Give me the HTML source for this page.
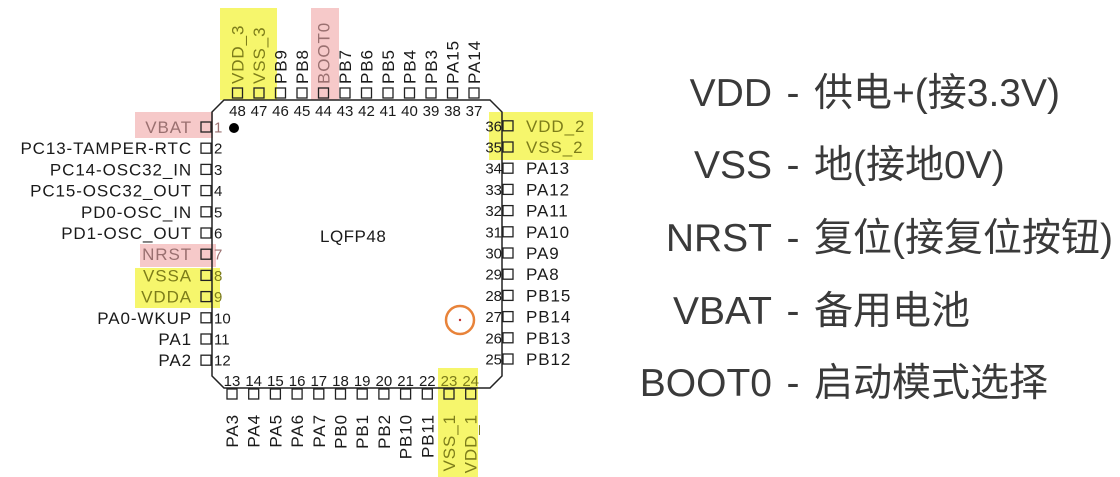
<!DOCTYPE html>
<html><head><meta charset="utf-8">
<style>
html,body{margin:0;padding:0;background:#fff;width:1120px;height:477px;overflow:hidden}
svg{display:block}
.pl{font-family:"Liberation Sans",Arial,sans-serif;font-size:17px;letter-spacing:0.9px;fill:#1a1a1a}
.pn{font-family:"Liberation Sans",Arial,sans-serif;font-size:15px;fill:#1a1a1a}
.big{font-family:"Liberation Sans","Noto Sans CJK SC",sans-serif;font-size:39px;fill:#3a3a3a}
</style></head>
<body>
<svg id="chip" width="1120" height="477" viewBox="0 0 1120 477">
  <g id="hl">
    <rect x="220" y="8" width="57" height="92" fill="#f6f66c"/>
    <rect x="311" y="8" width="28" height="92" fill="#f6c9c9"/>
    <rect x="135" y="112" width="78" height="26" fill="#f6c9c9"/>
    <rect x="140" y="244" width="76" height="23" fill="#f6c9c9"/>
    <rect x="135" y="268" width="85" height="40" fill="#f6f66c"/>
    <rect x="489" y="112" width="104" height="48" fill="#f6f66c"/>
    <rect x="438" y="368" width="40" height="109" fill="#f6f66c"/>
  </g>
  <polygon points="224,100 490,100 502,112 502,376 490,388 224,388 212,376 212,112" fill="none" stroke="#222" stroke-width="1.5"/>
  <circle cx="234" cy="128" r="5" fill="#000"/>
  <text x="320" y="242" class="pl" style="font-size:17px;letter-spacing:0.5px">LQFP48</text>
  <circle cx="460" cy="320" r="14" fill="none" stroke="#e8833a" stroke-width="2.5"/>
  <circle cx="460" cy="320" r="1.2" fill="#c03030"/>
  <g id="pins"></g>
  <g>
    <text x="772" y="106" class="big" text-anchor="end">VDD</text>
    <text x="793" y="106" class="big" text-anchor="middle">-</text>
    <text x="814" y="106" class="big">供电+(接3.3V)</text>
    <text x="772" y="178" class="big" text-anchor="end">VSS</text>
    <text x="793" y="178" class="big" text-anchor="middle">-</text>
    <text x="814" y="178" class="big">地(接地0V)</text>
    <text x="772" y="251" class="big" text-anchor="end">NRST</text>
    <text x="793" y="251" class="big" text-anchor="middle">-</text>
    <text x="814" y="251" class="big">复位(接复位按钮)</text>
    <text x="772" y="324" class="big" text-anchor="end">VBAT</text>
    <text x="793" y="324" class="big" text-anchor="middle">-</text>
    <text x="814" y="324" class="big">备用电池</text>
    <text x="772" y="396" class="big" text-anchor="end">BOOT0</text>
    <text x="793" y="396" class="big" text-anchor="middle">-</text>
    <text x="814" y="396" class="big">启动模式选择</text>
  </g>
</svg>
<script>
const leftNames=["VBAT","PC13-TAMPER-RTC","PC14-OSC32_IN","PC15-OSC32_OUT","PD0-OSC_IN","PD1-OSC_OUT","NRST","VSSA","VDDA","PA0-WKUP","PA1","PA2"];
const bottomNames=["PA3","PA4","PA5","PA6","PA7","PB0","PB1","PB2","PB10","PB11","VSS_1","VDD_1"];
const rightNames=["PB12","PB13","PB14","PB15","PA8","PA9","PA10","PA11","PA12","PA13","VSS_2","VDD_2"];
const topNames=["PA14","PA15","PB3","PB4","PB5","PB6","PB7","BOOT0","PB8","PB9","VSS_3","VDD_3"];
const yellow=["VSSA","VDDA","VSS_1","VDD_1","VSS_2","VDD_2","VSS_3","VDD_3"];
const pink=["VBAT","NRST","BOOT0"];
const NS="http://www.w3.org/2000/svg";
const g=document.getElementById('pins');
function col(n){return yellow.includes(n)?'#7d7d1a':pink.includes(n)?'#9a7070':'#1a1a1a';}
function mk(tag,attrs,txt){const e=document.createElementNS(NS,tag);for(const k in attrs)e.setAttribute(k,attrs[k]);if(txt!==undefined)e.textContent=txt;g.appendChild(e);return e;}
const sq={fill:'none',stroke:'#222','stroke-width':1.3};
leftNames.forEach((n,i)=>{const y=127+i*21.2;
  const s=mk('rect',Object.assign({x:201,y:y-5,width:10,height:10},sq));
  
  
  const t=mk('text',{x:192,y:y+6,'text-anchor':'end',class:'pl',style:'fill:'+col(n)},n);
  
  
  const m=mk('text',{x:214,y:y+5.5,class:'pn',style:'fill:'+col(n)},String(i+1));
  
  
});
bottomNames.forEach((n,i)=>{const x=232+i*21.7;
  const s=mk('rect',Object.assign({x:x-5,y:389,width:10,height:10},sq));
  
  
  const t=mk('text',{x:0,y:0,'text-anchor':'end',class:'pl',style:'fill:'+col(n),transform:`translate(${x+6},414) rotate(-90)`},n);
  
  
  const m=mk('text',{x:x,y:386,'text-anchor':'middle',class:'pn',style:'fill:'+(i>=10?'#7d7d1a':'#1a1a1a')},String(13+i));
  
  
});
rightNames.forEach((n,i)=>{const y=359-i*21.2;
  const s=mk('rect',Object.assign({x:503,y:y-5,width:10,height:10},sq));
  
  
  const t=mk('text',{x:526,y:y+6,class:'pl',style:'fill:'+col(n)},n);
  
  
  const m=mk('text',{x:502,y:y+5.5,'text-anchor':'end',class:'pn'},String(25+i));
  
  
});
topNames.forEach((n,i)=>{const x=474-i*21.5;
  const s=mk('rect',Object.assign({x:x-5,y:88,width:10,height:10},sq));
  
  
  const t=mk('text',{x:0,y:0,class:'pl',style:'fill:'+col(n),transform:`translate(${x+6},84) rotate(-90)`},n);
  
  
  const m=mk('text',{x:x,y:116,'text-anchor':'middle',class:'pn'},String(37+i));
  
  
});
</script>
</body></html>
